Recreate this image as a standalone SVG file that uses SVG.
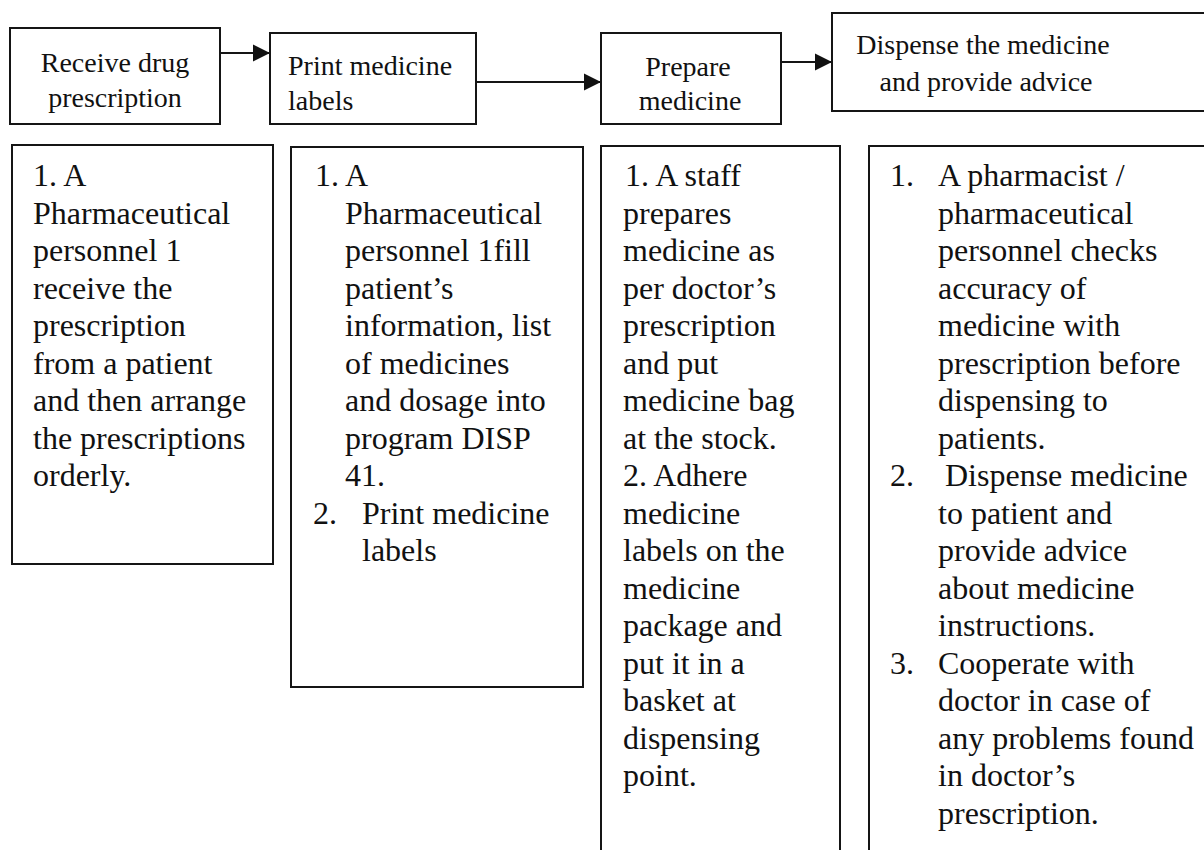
<svg xmlns="http://www.w3.org/2000/svg" width="1204" height="850" viewBox="0 0 1204 850">
<defs>
<style>
.box{fill:#fff;stroke:#151515;stroke-width:2}
.t{font-family:"Liberation Serif","Times New Roman",serif;fill:#111}
.h{font-size:28px}
.b{font-size:32px}
.c{text-anchor:middle}
.ln{stroke:#151515;stroke-width:2;fill:none}
</style>
<marker id="ah" viewBox="0 0 10 10" refX="10" refY="5" markerWidth="17" markerHeight="20" markerUnits="userSpaceOnUse" orient="auto">
<path d="M0,0 L10,5 L0,10 Z" fill="#111"/>
</marker>
</defs>
<rect width="1204" height="850" fill="#fff"/>
<g id="connectors">
<line class="ln" x1="220" y1="53" x2="270" y2="53" marker-end="url(#ah)"/>
<line class="ln" x1="476" y1="82" x2="601" y2="82" marker-end="url(#ah)"/>
<line class="ln" x1="781" y1="62" x2="832" y2="62" marker-end="url(#ah)"/>
</g>
<g id="step1">
<rect class="box" x="10" y="28" width="210" height="96"/>
<text class="t h c" x="115" y="72">Receive drug</text>
<text class="t h c" x="115" y="107">prescription</text>
</g>
<g id="step2">
<rect class="box" x="270" y="33" width="206" height="91"/>
<text class="t h" x="288" y="75">Print medicine</text>
<text class="t h" x="288" y="110">labels</text>
</g>
<g id="step3">
<rect class="box" x="601" y="33" width="180" height="91"/>
<text class="t h c" x="688" y="76">Prepare</text>
<text class="t h c" x="690" y="110">medicine</text>
</g>
<g id="step4">
<rect class="box" x="832" y="13" width="380" height="98"/>
<text class="t h c" x="983" y="54">Dispense the medicine</text>
<text class="t h c" x="986" y="91">and provide advice</text>
</g>
<g id="detail1">
<rect class="box" x="12" y="145" width="261" height="419"/>
<text class="t b" x="33" y="186">1. A</text>
<text class="t b" x="33" y="223.5">Pharmaceutical</text>
<text class="t b" x="33" y="261">personnel 1</text>
<text class="t b" x="33" y="298.5">receive the</text>
<text class="t b" x="33" y="336">prescription</text>
<text class="t b" x="33" y="373.5">from a patient</text>
<text class="t b" x="33" y="411">and then arrange</text>
<text class="t b" x="33" y="448.5">the prescriptions</text>
<text class="t b" x="33" y="486">orderly.</text>
</g>
<g id="detail2">
<rect class="box" x="291" y="147" width="292" height="540"/>
<text class="t b" x="315" y="186">1.</text>
<text class="t b" x="345" y="186">A</text>
<text class="t b" x="345" y="223.5">Pharmaceutical</text>
<text class="t b" x="345" y="261">personnel 1fill</text>
<text class="t b" x="345" y="298.5">patient’s</text>
<text class="t b" x="345" y="336">information, list</text>
<text class="t b" x="345" y="373.5">of medicines</text>
<text class="t b" x="345" y="411">and dosage into</text>
<text class="t b" x="345" y="448.5">program DISP</text>
<text class="t b" x="345" y="486">41.</text>
<text class="t b" x="313" y="523.5">2.</text>
<text class="t b" x="362" y="523.5">Print medicine</text>
<text class="t b" x="362" y="561">labels</text>
</g>
<g id="detail3">
<rect class="box" x="601" y="146" width="239" height="710"/>
<text class="t b" x="625" y="186">1. A staff</text>
<text class="t b" x="623" y="223.5">prepares</text>
<text class="t b" x="623" y="261">medicine as</text>
<text class="t b" x="623" y="298.5">per doctor’s</text>
<text class="t b" x="623" y="336">prescription</text>
<text class="t b" x="623" y="373.5">and put</text>
<text class="t b" x="623" y="411">medicine bag</text>
<text class="t b" x="623" y="448.5">at the stock.</text>
<text class="t b" x="623" y="486">2. Adhere</text>
<text class="t b" x="623" y="523.5">medicine</text>
<text class="t b" x="623" y="561">labels on the</text>
<text class="t b" x="623" y="598.5">medicine</text>
<text class="t b" x="623" y="636">package and</text>
<text class="t b" x="623" y="673.5">put it in a</text>
<text class="t b" x="623" y="711">basket at</text>
<text class="t b" x="623" y="748.5">dispensing</text>
<text class="t b" x="623" y="786">point.</text>
</g>
<g id="detail4">
<rect class="box" x="869" y="146" width="345" height="710"/>
<text class="t b" x="890" y="186">1.</text>
<text class="t b" x="938" y="186">A pharmacist /</text>
<text class="t b" x="938" y="223.5">pharmaceutical</text>
<text class="t b" x="938" y="261">personnel checks</text>
<text class="t b" x="938" y="298.5">accuracy of</text>
<text class="t b" x="938" y="336">medicine with</text>
<text class="t b" x="938" y="373.5">prescription before</text>
<text class="t b" x="938" y="411">dispensing to</text>
<text class="t b" x="938" y="448.5">patients.</text>
<text class="t b" x="890" y="486">2.</text>
<text class="t b" x="945" y="486">Dispense medicine</text>
<text class="t b" x="938" y="523.5">to patient and</text>
<text class="t b" x="938" y="561">provide advice</text>
<text class="t b" x="938" y="598.5">about medicine</text>
<text class="t b" x="938" y="636">instructions.</text>
<text class="t b" x="890" y="673.5">3.</text>
<text class="t b" x="938" y="673.5">Cooperate with</text>
<text class="t b" x="938" y="711">doctor in case of</text>
<text class="t b" x="938" y="748.5">any problems found</text>
<text class="t b" x="938" y="786">in doctor’s</text>
<text class="t b" x="938" y="823.5">prescription.</text>
</g>
</svg>
